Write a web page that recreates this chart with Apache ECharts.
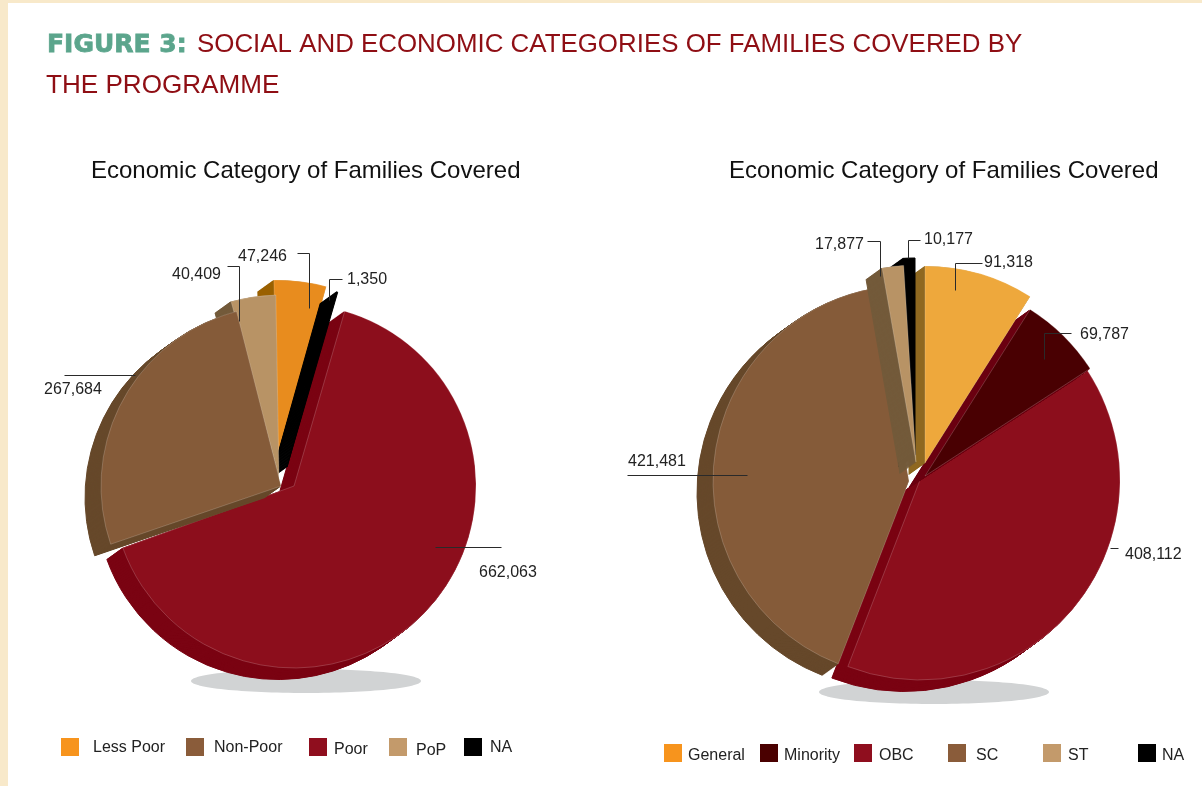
<!DOCTYPE html>
<html>
<head>
<meta charset="utf-8">
<title>Social and economic categories of families covered</title>
<style>html,body{margin:0;padding:0;background:#fff}#chart{width:1202px;height:786px}</style>
<script src="https://cdn.jsdelivr.net/npm/echarts@6/dist/echarts.min.js"></script>
</head>
<body>
<div id="chart"></div>
<script>
// Slices listed clockwise from twelve o'clock
const economicNames = ['Less Poor', 'NA', 'Poor', 'Non-Poor', 'PoP'];
const economicValues = [47246, 1350, 662063, 267684, 40409];
const socialNames = ['General', 'Minority', 'OBC', 'SC', 'ST', 'NA'];
const socialValues = [91318, 69787, 408112, 421481, 17877, 10177];

const FONT = '"Liberation Sans", Arial, sans-serif';
const TEXT = '#222222';
const LABEL_SIZE = 16;
const DEPTH = 16;          // length of the extruded side wall, in px
const DEPTH_SLOPE = 0.72;  // vertical run of the wall per horizontal px

// Per-slice styling, pull-out centres, radii and small rotations
const economicStyle = {
  face:    ['#e88c1e', '#000000', '#8c0e1c', '#855b39', '#b89365'],
  wall:    ['#9a6000', '#000000', '#7a0312', '#66482a', '#735a3a'],
  centers: [[278, 462], [287, 467], [294, 486], [281, 486], [279, 477]],
  radii:   [182, 182, 182, 180, 182],
  tilt:    [1.3, 1, 1, 0, 1],
  order:   [2, 0, 1, 4, 3],
  labelAt: [[238, 257], [347, 280], [479, 573], [44, 390], [172, 275]]
};
const socialStyle = {
  face:    ['#eea83c', '#490002', '#8c0e1c', '#855b39', '#b89365', '#000000'],
  wall:    ['#8f6820', '#6b0010', '#7a0312', '#66482a', '#735a3a', '#000000'],
  centers: [[925, 463], [925, 476], [920, 480], [909, 481], [916, 462], [915, 455]],
  radii:   [197, 197, 200, 196, 197, 197],
  tilt:    [0, 0, 0, 0, 0, 0],
  order:   [2, 1, 3, 0, 5, 4],
  labelAt: [[984, 263], [1080, 335], [1125, 555], [628, 462], [815, 245], [924, 240]]
};

// Leader lines beside the value labels
const economicLeaders = [
  [[297, 253], [309, 253], [309, 308]],
  [[227, 266], [239, 266], [239, 321]],
  [[342, 279], [329, 279], [329, 300]],
  [[64, 375], [135, 375]],
  [[435, 547], [501, 547]]
];
const socialLeaders = [
  [[867, 241], [880, 241], [880, 276]],
  [[920, 240], [908, 240], [908, 258]],
  [[982, 263], [955, 263], [955, 290]],
  [[1071, 333], [1044, 333], [1044, 359]],
  [[627, 475], [747, 475]],
  [[1110, 548], [1118, 548]]
];

// Legend entries: name, swatch colour, swatch x, swatch y, text gap, text drop
const economicLegend = [
  ['Less Poor', '#f7941d', 61, 738, 9, 1],
  ['Non-Poor', '#8a5c3a', 186, 738, 5, 1],
  ['Poor', '#8f0e1e', 309, 738, 2, 3],
  ['PoP', '#c39a6b', 389, 738, 4, 4],
  ['NA', '#000000', 464, 738, 3, 1]
];
const socialLegend = [
  ['General', '#f7941d', 664, 744, 1, 3],
  ['Minority', '#4a0000', 760, 744, 1, 3],
  ['OBC', '#8f0e1e', 854, 744, 2, 3],
  ['SC', '#8a5c3a', 948, 744, 5, 3],
  ['ST', '#c39a6b', 1043, 744, 2, 3],
  ['NA', '#000000', 1138, 744, 1, 3]
];

function singleSlicePie(values, index, center, radius, tilt, color, border, borderWidth) {
  return {
    type: 'pie',
    silent: true,
    animation: false,
    center,
    radius,
    startAngle: 90 + tilt,
    label: { show: false },
    labelLine: { show: false },
    data: values.map((value, i) => ({
      value,
      itemStyle: i === index
        ? { color, borderColor: border, borderWidth }
        : { color: 'rgba(0,0,0,0)', borderWidth: 0 }
    }))
  };
}

// Side walls are swept back from the face; each slice is painted wall first, then face
function extrudedPie(values, style) {
  const series = [];
  style.order.forEach((i) => {
    const [cx, cy] = style.centers[i];
    const r = style.radii[i];
    const tilt = style.tilt[i];
    for (let k = DEPTH; k >= 1; k--) {
      series.push(singleSlicePie(values, i, [cx - k, cy + k * DEPTH_SLOPE], r, tilt,
        style.wall[i], style.wall[i], 1));
    }
    const isBlack = style.face[i] === '#000000';
    series.push(singleSlicePie(values, i, [cx, cy], r, tilt, style.face[i],
      isBlack ? '#000000' : 'rgba(255,255,255,0.3)', isBlack ? 1 : 0.6));
  });
  return series;
}

// Invisible pie carrying names and value labels above the painted slices
function labelPie(names, values, style) {
  return {
    type: 'pie',
    silent: true,
    animation: false,
    center: style.centers[0],
    radius: 100,
    startAngle: 90,
    avoidLabelOverlap: false,
    itemStyle: { color: 'rgba(0,0,0,0)' },
    label: {
      show: true,
      position: 'outside',
      fontFamily: FONT,
      fontSize: LABEL_SIZE,
      color: TEXT,
      formatter: (p) => p.value.toLocaleString('en-US')
    },
    labelLine: { show: false },
    labelLayout: (p) => ({
      x: style.labelAt[p.dataIndex][0],
      y: style.labelAt[p.dataIndex][1],
      align: 'left',
      verticalAlign: 'middle'
    }),
    data: names.map((name, i) => ({ name, value: values[i] }))
  };
}

function legendFor(entries) {
  return entries.map(([name, color, x, y, gap, drop]) => ({
    left: x,
    top: y,
    padding: 0,
    orient: 'horizontal',
    icon: 'rect',
    itemWidth: 18,
    itemHeight: 18,
    selectedMode: false,
    formatter: (n) => `{t|${n}}`,
    textStyle: {
      padding: [0, 0, 0, gap],
      rich: {
        t: {
          fontFamily: FONT,
          fontSize: LABEL_SIZE,
          color: TEXT,
          padding: [drop * 2, 0, 0, 0]
        }
      }
    },
    data: [{ name, itemStyle: { color } }]
  }));
}

function leaderGraphics(leaders) {
  return leaders.map((points) => ({
    type: 'polyline',
    z: 100,
    silent: true,
    shape: { points: points.map(([x, y]) => [x + 0.5, y + 0.5]) },
    style: { fill: null, stroke: '#2a2a2a', lineWidth: 1 }
  }));
}

const chart = echarts.init(document.getElementById('chart'), null, { renderer: 'canvas' });
chart.setOption({
  animation: false,
  backgroundColor: '#ffffff',
  title: [
    { text: 'FIGURE 3:', left: 47, top: 33, padding: 0,
      textStyle: { fontFamily: '"DejaVu Sans", sans-serif', fontWeight: 'bold', fontSize: 25, color: '#5ba58c',
        textBorderColor: '#5ba58c', textBorderWidth: 0.8 } },
    { text: 'SOCIAL AND ECONOMIC CATEGORIES OF FAMILIES COVERED BY', left: 197, top: 32, padding: 0,
      textStyle: { fontFamily: FONT, fontWeight: 'normal', fontSize: 25.9, color: '#8f0e14' } },
    { text: 'THE PROGRAMME', left: 46, top: 73, padding: 0,
      textStyle: { fontFamily: FONT, fontWeight: 'normal', fontSize: 26.1, color: '#8f0e14' } },
    { text: 'Economic Category of Families Covered', left: 91, top: 159, padding: 0,
      textStyle: { fontFamily: FONT, fontWeight: 'normal', fontSize: 24, color: '#111111' } },
    { text: 'Economic Category of Families Covered', left: 729, top: 159, padding: 0,
      textStyle: { fontFamily: FONT, fontWeight: 'normal', fontSize: 24, color: '#111111' } }
  ],
  legend: legendFor(economicLegend).concat(legendFor(socialLegend)),
  series: [
    ...extrudedPie(economicValues, economicStyle),
    ...extrudedPie(socialValues, socialStyle),
    labelPie(economicNames, economicValues, economicStyle),
    labelPie(socialNames, socialValues, socialStyle)
  ],
  graphic: [
    // Cream page frame
    { type: 'rect', z: -20, silent: true, shape: { x: 0, y: 0, width: 1202, height: 3 }, style: { fill: '#f8e9ca' } },
    { type: 'rect', z: -20, silent: true, shape: { x: 0, y: 0, width: 8, height: 786 }, style: { fill: '#f8e9ca' } },
    // Ground shadows
    { type: 'ellipse', z: -10, silent: true, shape: { cx: 306, cy: 681, rx: 115, ry: 12 }, style: { fill: '#d1d3d4' } },
    { type: 'ellipse', z: -10, silent: true, shape: { cx: 934, cy: 692, rx: 115, ry: 12 }, style: { fill: '#d1d3d4' } },
    ...leaderGraphics(economicLeaders),
    ...leaderGraphics(socialLeaders)
  ]
});
</script>
</body>
</html>
